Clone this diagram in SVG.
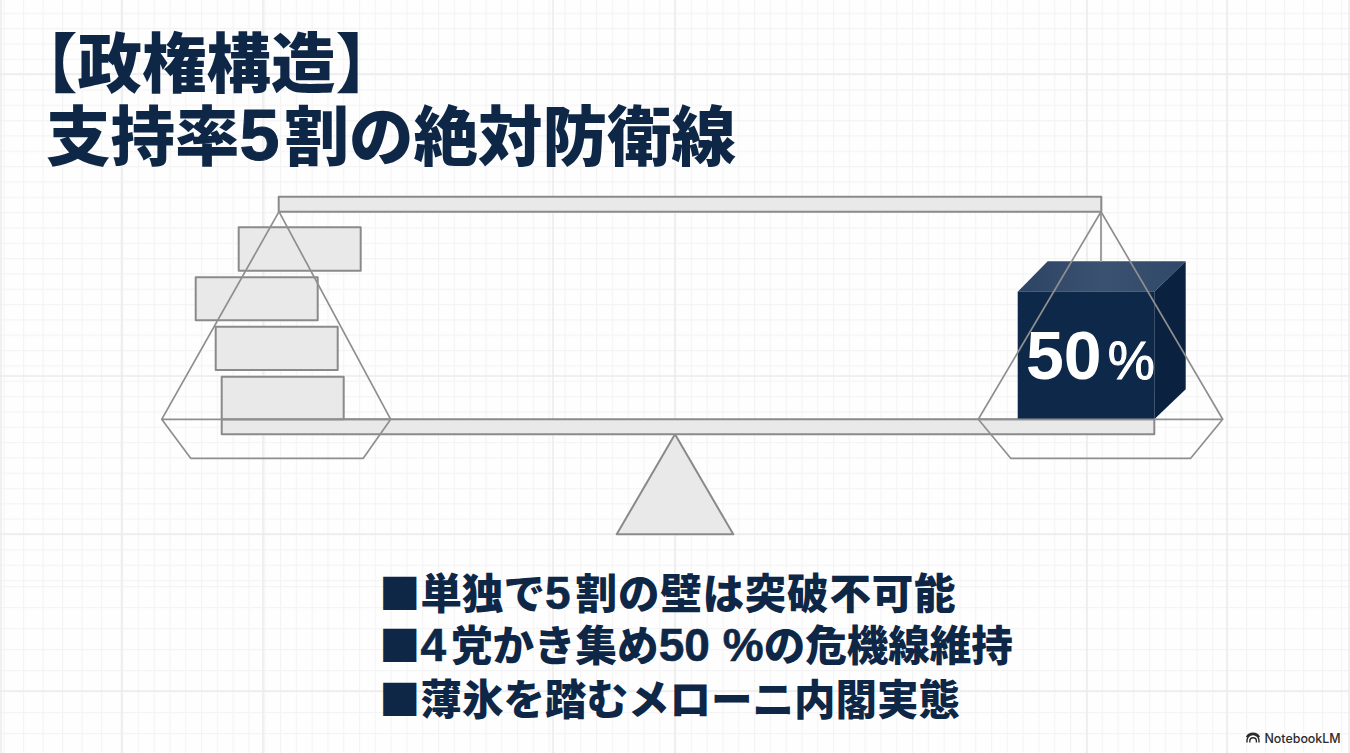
<svg xmlns="http://www.w3.org/2000/svg" width="1350" height="753" viewBox="0 0 1350 753">
  <style>
    .part { fill: #e9e9e9; stroke: #8a8a8a; stroke-width: 2; stroke-linejoin: round; }
    .wire { fill: none; stroke: #8f8f8f; stroke-width: 1.7; stroke-linejoin: round; }
    .heading { font-family: "Noto Sans CJK JP", "Noto Sans", sans-serif; font-weight: 900; font-size: 64.5px; fill: #0e2747; }
    .point { font-family: "Noto Sans CJK JP", "Noto Sans", sans-serif; font-weight: 900; font-size: 41.5px; fill: #0e2747; }
    .digit { font-family: "Liberation Sans", Arial, sans-serif; font-weight: 700; stroke: #0e2747; }
    .minor { fill: none; stroke: #f4f4f4; stroke-width: 1.2; }
    .major { fill: none; stroke: #ebebeb; stroke-width: 1.5; }
  </style>
  <defs>
    <pattern id="colsLeft" width="19.5" height="10" patternUnits="userSpaceOnUse" x="3.5"><path class="minor" d="M0.6 0V10"/></pattern>
    <pattern id="cols" width="15.8" height="10" patternUnits="userSpaceOnUse" x="122"><path class="minor" d="M0.6 0V10"/></pattern>
    <pattern id="colsRight" width="19" height="10" patternUnits="userSpaceOnUse" x="1227"><path class="minor" d="M0.6 0V10"/></pattern>
    <pattern id="rows" width="10" height="15.33" patternUnits="userSpaceOnUse" y="12.7"><path class="minor" d="M0 0.6H10"/></pattern>
    <pattern id="rowsLow" width="10" height="21" patternUnits="userSpaceOnUse" y="586"><path class="minor" d="M0 0.6H10"/></pattern>
    <linearGradient id="cubeTop" x1="0" y1="0" x2="1" y2="0">
      <stop offset="0" stop-color="#2c4465"/>
      <stop offset="0.5" stop-color="#3b5170"/>
      <stop offset="1" stop-color="#30496a"/>
    </linearGradient>
  </defs>

  <g id="background">
    <rect width="1350" height="753" fill="#fefefe"/>
    <rect width="122" height="753" fill="url(#colsLeft)"/>
    <rect x="122" width="1105" height="753" fill="url(#cols)"/>
    <rect x="1227" width="123" height="753" fill="url(#colsRight)"/>
    <rect width="1350" height="586" fill="url(#rows)"/>
    <rect y="586" width="1350" height="167" fill="url(#rowsLow)"/>
    <path class="major" d="M1 0V753M122 0V753M263 0V753M553 0V753M675 0V753M1087 0V753M1227 0V753M1349 0V753M0 74H1350M0 376H1350M0 534H1350M0 691H1350"/>
  </g>

  <g id="title">
    <text class="heading" x="13" y="87">【政権構造】</text>
    <text class="heading" x="46" y="160">支持率<tspan class="digit" font-size="72" stroke-width="1">5</tspan><tspan dx="5">割の絶対防衛線</tspan></text>
  </g>

  <g id="fulcrum"><polygon class="part" points="675,434.3 733.3,534.3 616.7,534.3"/></g>
  <g id="beam-upper"><rect class="part" x="278.7" y="196.7" width="822.6" height="15"/></g>
  <g id="beam-lower"><rect class="part" x="221.7" y="419.3" width="932.6" height="15"/></g>

  <g id="block-1"><rect class="part" x="238.7" y="227.3" width="122" height="43.4"/></g>
  <g id="block-2"><rect class="part" x="195.7" y="277.3" width="122" height="43"/></g>
  <g id="block-3"><rect class="part" x="215.7" y="326.7" width="122" height="43.3"/></g>
  <g id="block-4"><rect class="part" x="221.7" y="376.7" width="122" height="42.6"/></g>

  <g id="weight-cube">
    <polygon points="1017.7,291.7 1047.7,261.3 1185.7,261.3 1154.3,291.7" fill="url(#cubeTop)"/>
    <polygon points="1154.3,291.7 1185.7,261.3 1185.7,389.3 1154.3,419.3" fill="#0a2240"/>
    <rect x="1017.7" y="291.7" width="136.6" height="127.6" fill="#0e2849"/>
  </g>

  <g id="connectors">
    <path class="wire" d="M1101 211.7V262"/>
    <path class="wire" d="M279 211.7L161.7 419.3H390.7L279 211.7ZM161.7 419.3L190.7 458.3H363.3L390.7 419.3"/>
    <path class="wire" d="M1101 211.7L978.3 419.3H1222.7L1101 211.7ZM978.3 419.3L1010.7 458.3H1190.7L1222.7 419.3"/>
  </g>

  <g id="weight-label">
    <text x="1026" y="379" font-family="'Liberation Sans', Arial, sans-serif" font-weight="700" font-size="68" fill="#ffffff">50<tspan dx="6" font-size="53" font-weight="400" stroke="#ffffff" stroke-width="1">%</tspan></text>
  </g>

  <g id="points">
    <text class="point" x="379" y="609">■単独で<tspan class="digit" font-size="46" stroke-width="0.6">5</tspan><tspan dx="5" letter-spacing="0.8">割の壁は突破不可能</tspan></text>
    <text class="point" x="379" y="661">■<tspan class="digit" font-size="46" stroke-width="0.6">4</tspan><tspan dx="5">党かき集め</tspan><tspan class="digit" font-size="46" stroke-width="0.6">50<tspan dx="13">%</tspan></tspan>の危機線維持</text>
    <text class="point" x="379" y="715">■薄氷を踏むメローニ内閣実態</text>
  </g>

  <g id="badge">
    <path d="M1247 742.5v-2a6 6 0 0 1 12 0v2M1249.8 742.5v-1.5a3.3 3.3 0 0 1 6.6 0v1.5M1246.5 737a7.5 7.5 0 0 1 13 0" fill="none" stroke="#2a2a2a" stroke-width="1.4"/>
    <text x="1264.5" y="742.5" font-family="Inter, 'Liberation Sans', sans-serif" font-weight="500" font-size="12.4" fill="#2a2a2a">NotebookLM</text>
  </g>
</svg>
